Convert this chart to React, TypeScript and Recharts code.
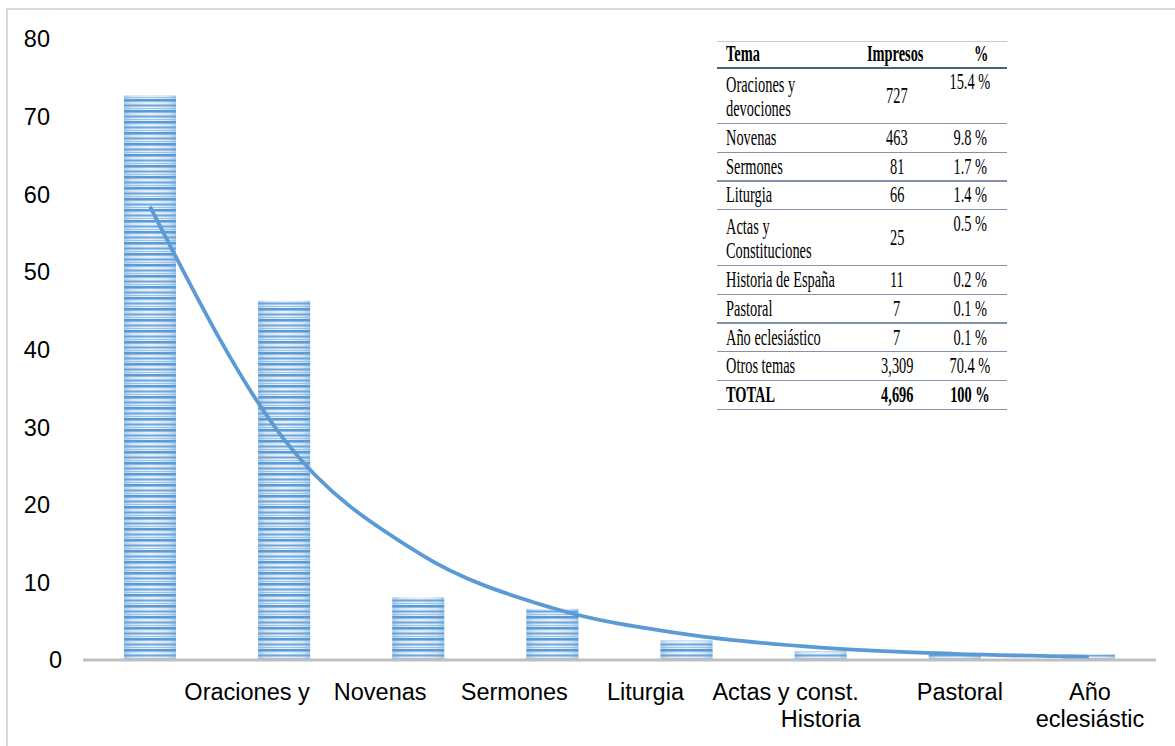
import { ComposedChart, Bar, Line, XAxis, YAxis } from "recharts";

// valores (impresos / 10)
const categorias = ["Oraciones", "Novenas", "Sermones", "Liturgia", "Actas", "Historia", "Pastoral", "Año"];
const impresosBarra = [72.7, 46.3, 8.1, 6.6, 2.5, 1.1, 0.7, 0.7];
const tendencia = [58.4, 28.4, 13.8, 6.7, 3.3, 1.6, 0.8, 0.4];
const etiquetas = [["Oraciones y"], ["Novenas"], ["Sermones"], ["Liturgia"], ["Actas y const."], ["", "Historia"], ["Pastoral"], ["Año", "eclesiástic"]];
const yTicks = [0, 10, 20, 30, 40, 50, 60, 70, 80];

// tabla
const temas = [["Oraciones y", "devociones"], ["Novenas"], ["Sermones"], ["Liturgia"], ["Actas y", "Constituciones"], ["Historia de España"], ["Pastoral"], ["Año eclesiástico"], ["Otros temas"]];
const impresos = ["727", "463", "81", "66", "25", "11", "7", "7", "3,309"];
const porcentajes = ["15.4 %", "9.8 %", "1.7 %", "1.4 %", "0.5 %", "0.2 %", "0.1 %", "0.1 %", "70.4 %"];
const total = ["TOTAL", "4,696", "100 %"];

const data = categorias.map((c, i) => ({ cat: c, valor: impresosBarra[i], tend: tendencia[i] }));

const SANS = "'Liberation Sans', Arial, sans-serif";
const SERIF = "'Liberation Serif', 'Times New Roman', serif";
const LABEL_SHIFT = [97, 96, 96, 93, 99, 0, 5, 1];

const YTick = (props: any) => {
    const { y, payload } = props;
    return (
        <text x={payload.value === 0 ? 62 : 50} y={y} dy="0.36em" textAnchor="end" fontSize={23.5} fontFamily={SANS} fill="#000">
            {payload.value}
        </text>
    );
};

const XTick = (props: any) => {
    const { x, payload } = props;
    const i = categorias.indexOf(payload.value);
    const lines = etiquetas[i] || [];
    return (
        <g>
            {lines.map((l, k) => (
                <text key={k} x={x + LABEL_SHIFT[i]} y={700 + 27 * k} textAnchor="middle" fontSize={23.5} fontFamily={SANS} fill="#000">
                    {l}
                </text>
            ))}
        </g>
    );
};

const StripedBar = (props: any) => {
    const { x, y, width, height } = props;
    if (!height || height <= 0) return null;
    return (
        <g>
            <rect x={x} y={y} width={width} height={height} fill="url(#barGrad)" />
            <rect x={x} y={y} width={width} height={height} fill="url(#barStripes)" />
        </g>
    );
};

const Txt = ({ children, bold, origin }: any) => (
    <span style={{ display: "inline-block", transform: "scaleX(0.64)", transformOrigin: origin, fontWeight: bold ? "bold" : "normal", whiteSpace: "nowrap" }}>
        {children}
    </span>
);

const TablaTemas = () => {
    const rowH = temas.map((t) => (t.length > 1 ? 56 : 28.7));
    let top = 68;
    const rows = temas.map((t, i) => {
        const r = { top, h: rowH[i] };
        top += rowH[i];
        return r;
    });
    const totalTop = top;
    const cell = (left: number, width: number, align: any): any => ({ position: "absolute", left, width, textAlign: align });
    return (
        <div style={{ position: "absolute", left: 717, top: 41, width: 290, height: 0, fontFamily: SERIF, fontSize: 22.5, color: "#000" }}>
            <div style={{ position: "absolute", left: 0, top: 0, width: 290, height: 1, background: "#C5C9D8" }} />
            {/* cabecera */}
            <div style={{ position: "absolute", left: 0, top: 0, width: 290, height: 27, lineHeight: "25px" }}>
                <div style={cell(9, 120, "left")}><Txt bold origin="left">Tema</Txt></div>
                <div style={cell(128, 100, "center")}><Txt bold origin="center">Impresos</Txt></div>
                <div style={cell(214, 100, "center")}><Txt bold origin="center">%</Txt></div>
            </div>
            <div style={{ position: "absolute", left: 0, top: 26, width: 290, height: 2, background: "#4E5D7C" }} />
            {temas.map((t, i) => {
                const r = rows[i];
                const dbl = t.length > 1;
                return (
                    <div key={i} style={{ position: "absolute", left: 0, top: r.top - 41, width: 290, height: r.h }}>
                        <div style={{ ...cell(9, 130, "left"), top: dbl ? 4.5 : 0, lineHeight: dbl ? "24px" : r.h + "px" }}>
                            {t.map((l, k) => (
                                <div key={k}><Txt origin="left">{l}</Txt></div>
                            ))}
                        </div>
                        <div style={{ ...cell(130, 100, "center"), top: 0, lineHeight: r.h + "px" }}>
                            <Txt origin="center">{impresos[i]}</Txt>
                        </div>
                        <div style={{ ...cell(203, 100, "center"), top: dbl ? 3 : 0, lineHeight: dbl ? "22px" : r.h + "px" }}>
                            <Txt origin="center">{porcentajes[i]}</Txt>
                        </div>
                        <div style={{ position: "absolute", left: 0, top: r.h - 1, width: 290, height: 1.3, background: "#8592AE" }} />
                    </div>
                );
            })}
            <div style={{ position: "absolute", left: 0, top: totalTop - 41, width: 290, height: 28.7, lineHeight: "28px" }}>
                <div style={cell(9, 120, "left")}><Txt bold origin="left">{total[0]}</Txt></div>
                <div style={cell(130, 100, "center")}><Txt bold origin="center">{total[1]}</Txt></div>
                <div style={cell(203, 100, "center")}><Txt bold origin="center">{total[2]}</Txt></div>
                <div style={{ position: "absolute", left: 0, top: 27.7, width: 290, height: 1.3, background: "#8592AE" }} />
            </div>
        </div>
    );
};

export default function App() {
    return (
        <div style={{ position: "fixed", left: 0, top: 0, width: 1175, height: 746, overflow: "hidden", background: "#fff" }}>
            <svg width={0} height={0} style={{ position: "absolute" }}>
                <defs>
                    <linearGradient id="barGrad" x1="0" y1="0" x2="1" y2="0">
                        <stop offset="0%" stopColor="#A9C9EA" />
                        <stop offset="15%" stopColor="#D3E4F5" />
                        <stop offset="50%" stopColor="#E8F1FA" />
                        <stop offset="85%" stopColor="#D3E4F5" />
                        <stop offset="100%" stopColor="#A9C9EA" />
                    </linearGradient>
                    <pattern id="barStripes" patternUnits="userSpaceOnUse" x="0" y="0" width="10" height="11">
                        <rect x="0" y="0" width="10" height="2.6" fill="#5B9BD5" />
                        <rect x="0" y="5.5" width="10" height="2" fill="#5B9BD5" opacity="0.85" />
                        <rect x="0" y="9" width="10" height="0.8" fill="#8DBAE3" />
                    </pattern>
                </defs>
            </svg>
            <div style={{ position: "absolute", left: 6, top: 8, width: 1190, height: 760, border: "2px solid #D9D9D9", boxSizing: "border-box" }} />
            <div style={{ position: "absolute", left: 0, top: 0 }}>
                <ComposedChart width={1175} height={746} data={data} margin={{ top: 39, right: 19, left: 0, bottom: 0 }}>
                    <XAxis dataKey="cat" interval={0} height={86} tickLine={false} axisLine={{ stroke: "#BFBFBF", strokeWidth: 3 }} tick={<XTick />} />
                    <YAxis domain={[0, 80]} ticks={yTicks} width={83} axisLine={false} tickLine={false} tick={<YTick />} />
                    <Bar dataKey="valor" barSize={52} shape={<StripedBar />} isAnimationActive={false} />
                    <Line type="monotone" dataKey="tend" stroke="#5B9BD5" strokeWidth={3.8} dot={false} isAnimationActive={false} />
                </ComposedChart>
            </div>
            <TablaTemas />
        </div>
    );
}
